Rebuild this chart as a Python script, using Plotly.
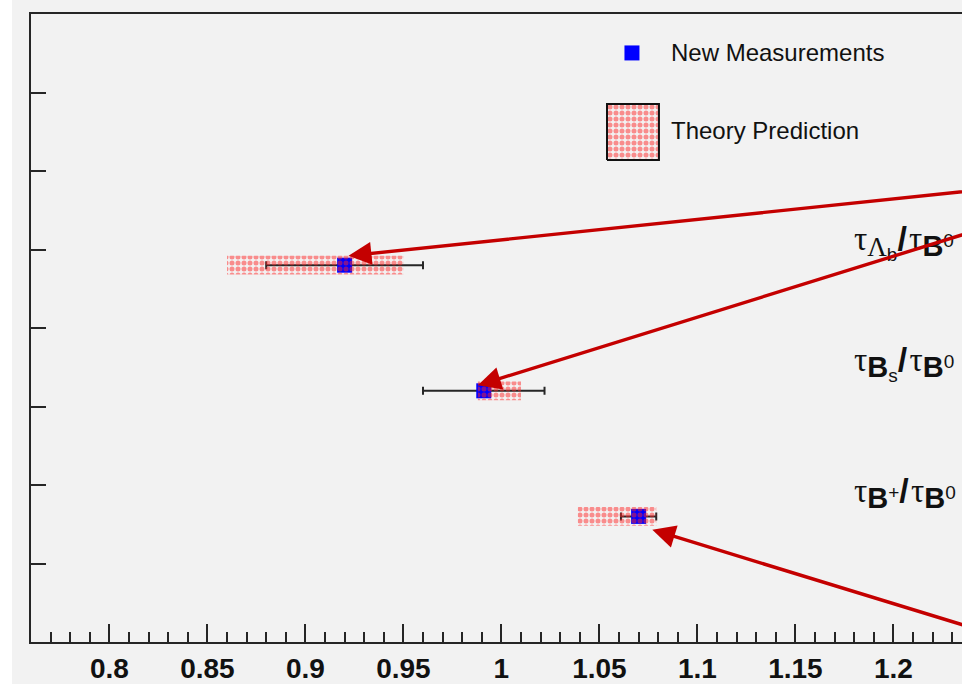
import plotly.graph_objects as go

# ---------------- data ----------------
ratio_names = ["Lambda_b", "B_s", "B_plus"]
y_pos = [4.8, 3.2, 1.6]
meas = [0.92, 0.991, 1.07]
meas_err = [0.04, 0.031, 0.009]
theory_lo = [0.86, 0.988, 1.039]
theory_hi = [0.95, 1.01, 1.079]
theory_halfh = 0.12

arrow_head_x = [0.922, 0.988, 1.077]
arrow_head_y = [4.92, 3.27, 1.43]
arrow_tail_x = [1.26, 1.26, 1.26]
arrow_tail_y = [5.80, 5.38, 0.03]

label_main = ["Λ", "B", "B"]
label_main_serif = [True, False, False]
label_sub = ["b", "s", ""]
label_sup = ["", "", "+"]
label_y = [5.1, 3.55, 1.9]
label_x = 1.179

x_range = [0.76, 1.235]
y_range = [0, 8]
x_tickvals = [0.8, 0.85, 0.9, 0.95, 1.0, 1.05, 1.1, 1.15, 1.2]
x_ticktext = ["0.8", "0.85", "0.9", "0.95", "1", "1.05", "1.1", "1.15", "1.2"]
y_tickvals = [1, 2, 3, 4, 5, 6, 7]

# ---------------- styles ----------------
BG = "#f2f2f2"
AX = "#262626"
RED = "#c40000"
PATTERN = dict(shape=".", fgcolor="#ff2626", bgcolor="rgba(0,0,0,0)", size=6, solidity=0.55)
SERIF = "Liberation Serif"

fig = go.Figure()

# measurements
fig.add_trace(go.Scatter(
    x=meas, y=y_pos, mode="markers",
    marker=dict(symbol="square", size=15, color="#0000ff", line=dict(width=0)),
    error_x=dict(type="data", array=meas_err, color=AX, thickness=2, width=4),
    hoverinfo="skip",
))

# theory boxes (drawn after so the dots overlay the markers)
for lo, hi, y in zip(theory_lo, theory_hi, y_pos):
    fig.add_trace(go.Scatter(
        x=[lo, hi, hi, lo, lo],
        y=[y - theory_halfh, y - theory_halfh, y + theory_halfh, y + theory_halfh, y - theory_halfh],
        mode="lines", line=dict(width=0, color="rgba(0,0,0,0)"),
        fill="toself", fillcolor="rgba(0,0,0,0)", fillpattern=PATTERN,
        hoverinfo="skip",
    ))

# legend (drawn on an overlay axis in 0..1 units)
fig.add_trace(go.Scatter(
    x=[0.6455], y=[0.938], xaxis="x2", yaxis="y2", mode="markers",
    marker=dict(symbol="square", size=15, color="#0000ff"), hoverinfo="skip",
))
fig.add_trace(go.Scatter(
    x=[0.6187, 0.6745, 0.6745, 0.6187, 0.6187],
    y=[0.7675, 0.7675, 0.8567, 0.8567, 0.7675],
    xaxis="x2", yaxis="y2", mode="lines", line=dict(width=2, color="#111"),
    fill="toself", fillcolor="rgba(0,0,0,0)", fillpattern=PATTERN, hoverinfo="skip",
))

annotations = [
    dict(xref="paper", yref="paper", x=0.685, y=0.938, xanchor="left", yanchor="middle",
         text="New Measurements", showarrow=False,
         font=dict(family="Liberation Sans", size=24, color="#111")),
    dict(xref="paper", yref="paper", x=0.685, y=0.8137, xanchor="left", yanchor="middle",
         text="Theory Prediction", showarrow=False,
         font=dict(family="Liberation Sans", size=24, color="#111")),
]

tau = f"<span style='font-family:{SERIF};font-size:33px'>τ</span>"
slash = "<span style='font-size:34px'><b>/</b></span><span style='font-size:8px'> </span>"
for m, ms, sb, sp, ly in zip(label_main, label_main_serif, label_sub, label_sup, label_y):
    if ms:
        inner = f"<span style='font-family:{SERIF};font-size:27px'>{m}</span>"
    else:
        inner = f"<span style='font-size:29px'><b>{m}</b></span>"
    if sb:
        inner += f"<sub><span style='font-size:19px'>{sb}</span></sub>"
    if sp:
        inner += f"<sup><span style='font-size:19px'>{sp}</span></sup>"
    den = "<span style='font-size:29px'><b>B</b></span><sup><span style='font-size:19px'>0</span></sup>"
    text = f"{tau}<sub>{inner}</sub>{slash}{tau}<sub>{den}</sub>"
    annotations.append(dict(
        xref="x", yref="y", x=label_x, y=ly, xanchor="left", yanchor="middle",
        text=text, showarrow=False,
        font=dict(family="Liberation Sans", size=30, color="#111"),
    ))

for hx, hy, tx, ty in zip(arrow_head_x, arrow_head_y, arrow_tail_x, arrow_tail_y):
    annotations.append(dict(
        xref="x", yref="y", x=hx, y=hy, axref="x", ayref="y", ax=tx, ay=ty,
        text="", showarrow=True, arrowhead=2, arrowsize=1.35, arrowwidth=3.4,
        arrowcolor=RED, standoff=0,
    ))

shapes = [
    dict(type="rect", xref="paper", yref="paper", x0=-1, x1=(12 - 31) / 931, y0=-1, y1=2,
         fillcolor="white", line=dict(width=0), layer="below"),
]

fig.update_layout(
    width=962, height=684,
    margin=dict(l=31, r=0, t=14, b=42, pad=0),
    paper_bgcolor=BG, plot_bgcolor=BG,
    showlegend=False,
    annotations=annotations,
    shapes=shapes,
    xaxis=dict(
        range=x_range, showline=True, linecolor=AX, linewidth=2, mirror=True,
        ticks="inside", ticklen=18, tickwidth=2, tickcolor=AX,
        tickmode="array", tickvals=x_tickvals, ticktext=x_ticktext,
        tickfont=dict(family="Liberation Sans", size=28, color="#111", weight="bold"),
        showgrid=False, zeroline=False,
        minor=dict(tick0=0.8, dtick=0.01, ticks="inside", ticklen=10, tickwidth=2,
                   tickcolor=AX, showgrid=False),
    ),
    yaxis=dict(
        range=y_range, showline=True, linecolor=AX, linewidth=2, mirror=False,
        ticks="inside", ticklen=15, tickwidth=2, tickcolor=AX,
        tickmode="array", tickvals=y_tickvals, showticklabels=False,
        showgrid=False, zeroline=False,
    ),
    xaxis2=dict(range=[0, 1], overlaying="x", visible=False),
    yaxis2=dict(range=[0, 1], overlaying="y", visible=False),
)

fig.write_html("out.html")
